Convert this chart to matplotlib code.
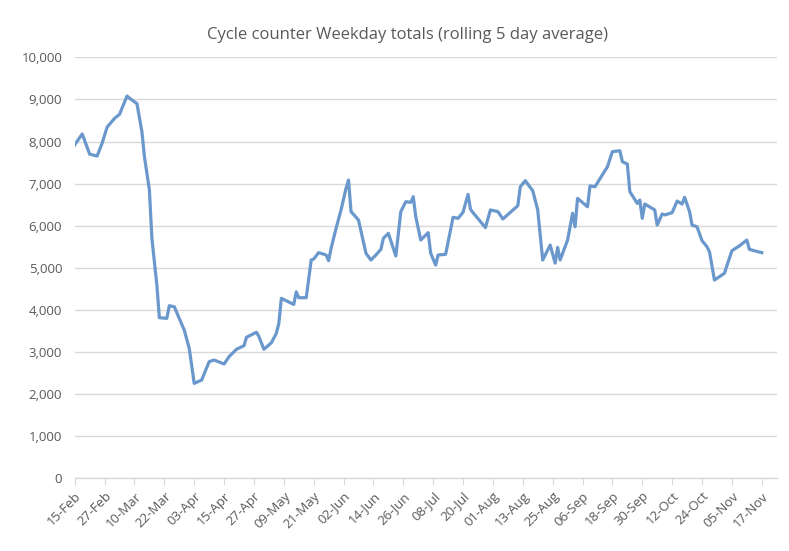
import matplotlib
matplotlib.use("Agg")
import matplotlib.pyplot as plt
import pandas as pd

start_date = "2020-02-15"
# day offsets from 15-Feb-2020 and rolling 5-day average of weekday totals
day_offsets = [0, 3, 6, 9, 11, 13, 16, 18, 21, 23, 25, 27, 28, 30, 31, 33, 34, 37, 38, 40,
               44, 46, 48, 51, 54, 56, 60, 62, 65, 68, 69, 73, 74, 76, 79, 81, 82, 83, 88, 89,
               90, 93, 95, 96, 98, 101, 102, 103, 105, 107, 109, 110, 111, 114, 117, 119, 121, 123, 124, 126,
               129, 131, 133, 135, 136, 137, 139, 142, 143, 145, 146, 149, 152, 154, 156, 158, 159, 160, 165, 167,
               170, 172, 178, 179, 181, 184, 186, 188, 191, 193, 194, 195, 198, 200, 201, 202, 206, 207, 209, 214,
               216, 219, 220, 222, 223, 226, 227, 228, 229, 233, 234, 236, 237, 240, 242, 244, 245, 247, 248, 250,
               252, 254, 255, 257, 259, 261, 264, 267, 270, 271, 273, 276]
counts = [7920, 8180, 7700, 7655, 7960, 8340, 8550, 8645, 9080, 8985, 8900, 8230, 7640, 6850, 5700, 4590, 3815, 3800, 4100, 4075,
          3520, 3090, 2255, 2335, 2770, 2810, 2715, 2890, 3065, 3150, 3350, 3470, 3365, 3065, 3220, 3445, 3680, 4275, 4130, 4430,
          4290, 4290, 5185, 5210, 5360, 5305, 5170, 5465, 5940, 6375, 6890, 7085, 6335, 6135, 5345, 5185, 5305, 5440, 5700, 5820,
          5280, 6335, 6570, 6555, 6690, 6215, 5660, 5835, 5345, 5065, 5305, 5320, 6200, 6175, 6320, 6745, 6390, 6310, 5955, 6375,
          6335, 6160, 6475, 6925, 7070, 6830, 6375, 5185, 5540, 5110, 5485, 5185, 5660, 6295, 5975, 6650, 6450, 6945, 6925, 7400,
          7760, 7780, 7520, 7465, 6810, 6530, 6610, 6175, 6515, 6375, 6015, 6280, 6255, 6310, 6585, 6515, 6675, 6335, 6015, 5975,
          5645, 5500, 5380, 4710, 4790, 4870, 5405, 5520, 5660, 5440, 5405, 5360]

title = "Cycle counter Weekday totals (rolling 5 day average)"
x_end_date = "2020-11-23"
last_tick_date = "2020-11-17"
tick_step_days = 12
y_ticks = list(range(0, 10001, 1000))

plt.rcParams['font.family'] = ['Open Sans', 'DejaVu Sans']

dates = pd.Timestamp(start_date) + pd.to_timedelta(day_offsets, unit="D")

fig = plt.figure(figsize=(7.89, 5.51), dpi=100)
ax = fig.add_axes([0.0947, 0.1319, 0.8897, 0.7641])

ax.plot(dates, counts, color="#6A98CC", lw=2.3, solid_joinstyle="round")

ax.set_xlim(pd.Timestamp(start_date), pd.Timestamp(x_end_date))
ax.set_ylim(0, 10000)
ax.set_yticks(y_ticks)
ax.set_yticklabels([f"{v:,}" for v in y_ticks])

xt = pd.date_range(start_date, last_tick_date, freq=f"{tick_step_days}D")
ax.set_xticks(xt)
ax.set_xticklabels([d.strftime("%d-%b") for d in xt], rotation=45, ha="right",
                   rotation_mode="anchor")

ax.grid(axis="y", color="#D9D9D9", lw=1)
ax.set_axisbelow(True)
for s in ["top", "right", "left"]:
    ax.spines[s].set_visible(False)
ax.spines["bottom"].set_color("#D9D9D9")
ax.spines["bottom"].set_linewidth(1)
ax.tick_params(axis="y", length=0, pad=9, labelsize=9.5, labelcolor="#595959")
ax.tick_params(axis="x", length=5, color="#D9D9D9", pad=3, labelsize=9.5, labelcolor="#595959")

fig.text(0.517, 0.937, title, ha="center", va="center", fontsize=12, color="#595959")

fig.savefig("out.png", dpi=100)
